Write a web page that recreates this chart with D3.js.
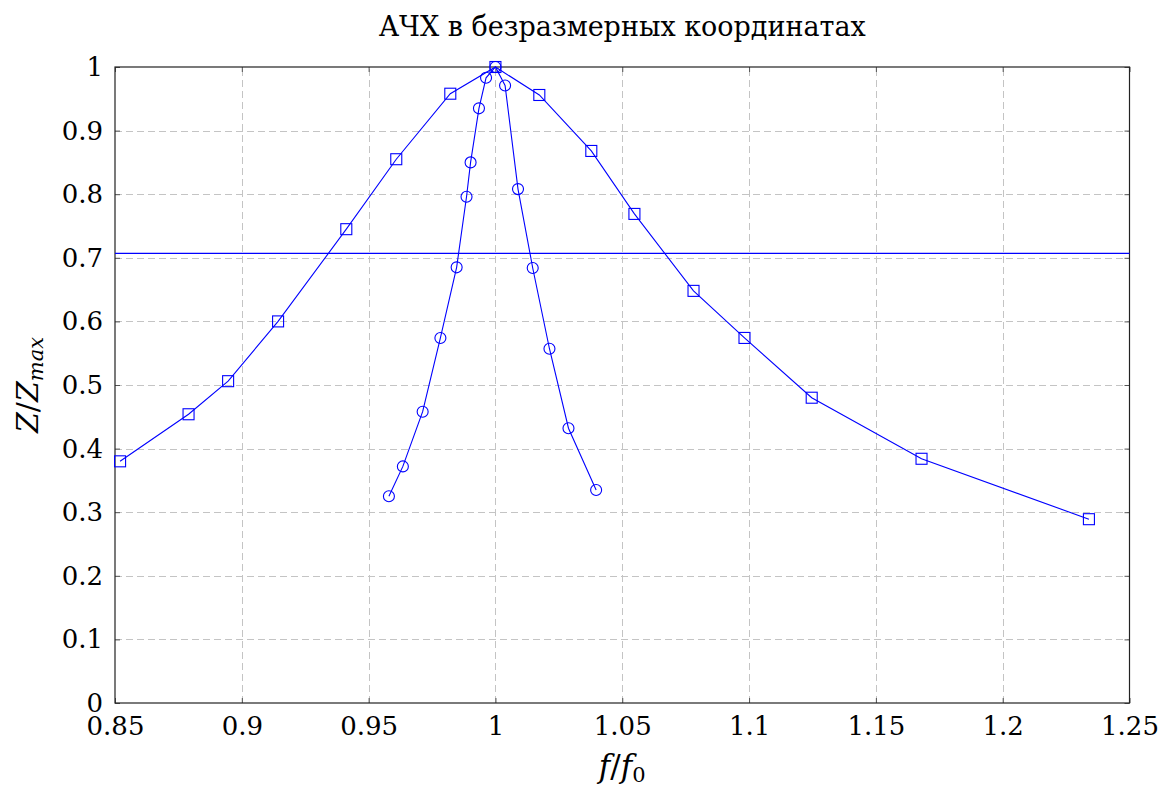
<!DOCTYPE html>
<html><head><meta charset="utf-8">
<script src="https://cdn.jsdelivr.net/npm/d3@7"></script>
</head>
<body style="margin:0;padding:0;background:#fff">
<svg id="chart" width="1166" height="790"></svg>
<script>
const title = "АЧХ в безразмерных координатах";
const xTicks = [0.85,0.9,0.95,1,1.05,1.1,1.15,1.2,1.25];
const xTickLabels = ["0.85","0.9","0.95","1","1.05","1.1","1.15","1.2","1.25"];
const yTicks = [0,0.1,0.2,0.3,0.4,0.5,0.6,0.7,0.8,0.9,1];
const yTickLabels = ["0","0.1","0.2","0.3","0.4","0.5","0.6","0.7","0.8","0.9","1"];
const squaresX = [0.852,0.879,0.8946,0.9143,0.9412,0.9609,0.9822,1.0,1.0173,1.0378,1.0548,1.0781,1.0982,1.1247,1.168,1.234];
const squaresY = [0.380,0.454,0.506,0.600,0.745,0.855,0.958,1.0,0.956,0.868,0.769,0.648,0.574,0.480,0.384,0.289];
const circlesX = [0.958,0.9635,0.9713,0.9783,0.9847,0.9886,0.9902,0.9935,0.9963,1.0,1.0038,1.0089,1.0147,1.0213,1.0288,1.0397];
const circlesY = [0.325,0.372,0.458,0.574,0.685,0.796,0.850,0.935,0.983,1.0,0.971,0.808,0.684,0.557,0.432,0.335];
const levelY = 0.707;

const FONT = '"DejaVu Serif"';
const svg = d3.select("#chart");
const L = 115, R = 1129.5, T = 67, B = 703;
const x = d3.scaleLinear().domain([0.85,1.25]).range([L,R]);
const y = d3.scaleLinear().domain([0,1]).range([B,T]);

// grid
const grid = svg.append("g").attr("stroke","#c4c4c4").attr("stroke-width",1).attr("stroke-dasharray","7,4");
grid.selectAll("line.v").data(xTicks.slice(1,-1)).join("line")
  .attr("x1",d=>Math.round(x(d))+0.5).attr("x2",d=>Math.round(x(d))+0.5).attr("y1",B).attr("y2",T);
grid.selectAll("line.h").data(yTicks.slice(1,-1)).join("line")
  .attr("y1",d=>Math.round(y(d))+0.5).attr("y2",d=>Math.round(y(d))+0.5).attr("x1",L).attr("x2",R);

// axes with inward ticks
const fmtX = d=>xTickLabels[xTicks.indexOf(d)];
const fmtY = d=>yTickLabels[yTicks.indexOf(d)];
const ax = svg.append("g").attr("transform",`translate(0,${B})`)
  .call(d3.axisBottom(x).tickValues(xTicks).tickFormat(fmtX).tickSizeInner(-5).tickSizeOuter(0).tickPadding(14));
const axT = svg.append("g").attr("transform",`translate(0,${T})`)
  .call(d3.axisTop(x).tickValues(xTicks).tickFormat("").tickSizeInner(-5).tickSizeOuter(0));
const ay = svg.append("g").attr("transform",`translate(${L},0)`)
  .call(d3.axisLeft(y).tickValues(yTicks).tickFormat(fmtY).tickSizeInner(-5).tickSizeOuter(0).tickPadding(12));
const ayR = svg.append("g").attr("transform",`translate(${R},0)`)
  .call(d3.axisRight(y).tickValues(yTicks).tickFormat("").tickSizeInner(-5).tickSizeOuter(0));
[ax,axT,ay,ayR].forEach(g=>{
  g.attr("font-family",null).attr("font-size",null);
  g.select(".domain").remove();
  g.selectAll(".tick line").attr("stroke","#555");
  g.selectAll("text").style("font-family",FONT).attr("font-size",26).attr("fill","#000");
});
ax.selectAll("text").attr("dy","0.68em");
ay.selectAll("text").attr("dy","0.33em");
// frame
svg.append("rect").attr("x",L).attr("y",T).attr("width",R-L).attr("height",B-T)
  .attr("fill","none").attr("stroke","#222").attr("stroke-width",1.2);

// level line
svg.append("line").attr("x1",L).attr("x2",R).attr("y1",y(levelY)).attr("y2",y(levelY))
  .attr("stroke","#0000ff").attr("stroke-width",1.2);

const line = d3.line().x(d=>x(d[0])).y(d=>y(d[1]));
const sq = squaresX.map((v,i)=>[v,squaresY[i]]);
const ci = circlesX.map((v,i)=>[v,circlesY[i]]);
svg.append("path").datum(sq).attr("d",line).attr("fill","none").attr("stroke","#0000ff").attr("stroke-width",1.1);
svg.append("path").datum(ci).attr("d",line).attr("fill","none").attr("stroke","#0000ff").attr("stroke-width",1.1);
svg.selectAll("rect.m").data(sq).join("rect").attr("class","m")
  .attr("x",d=>x(d[0])-5.5).attr("y",d=>y(d[1])-5.5).attr("width",11).attr("height",11)
  .attr("fill","none").attr("stroke","#0000ff").attr("stroke-width",1.1);
svg.selectAll("circle.m").data(ci).join("circle").attr("class","m")
  .attr("cx",d=>x(d[0])).attr("cy",d=>y(d[1])).attr("r",5.5)
  .attr("fill","none").attr("stroke","#0000ff").attr("stroke-width",1.1);

// title and labels
svg.append("text").attr("x",(L+R)/2).attr("y",36).attr("text-anchor","middle")
  .style("font-family",FONT).attr("font-size",27).text(title);
const xl = svg.append("text").attr("x",(L+R)/2).attr("y",777).attr("text-anchor","middle")
  .style("font-family",FONT).attr("font-size",31).style("font-style","italic");
xl.append("tspan").text("f");
xl.append("tspan").style("font-style","normal").text("/");
xl.append("tspan").text("f");
xl.append("tspan").attr("font-size",21).style("font-style","normal").attr("dy",5).text("0");
const yl = svg.append("text").attr("transform",`translate(38,${(T+B)/2}) rotate(-90)`)
  .attr("text-anchor","middle").style("font-family",FONT).attr("font-size",30).style("font-style","italic");
yl.append("tspan").text("Z");
yl.append("tspan").style("font-style","normal").text("/");
yl.append("tspan").text("Z");
yl.append("tspan").attr("font-size",21).attr("dy",5).text("max");
</script>
</body></html>
